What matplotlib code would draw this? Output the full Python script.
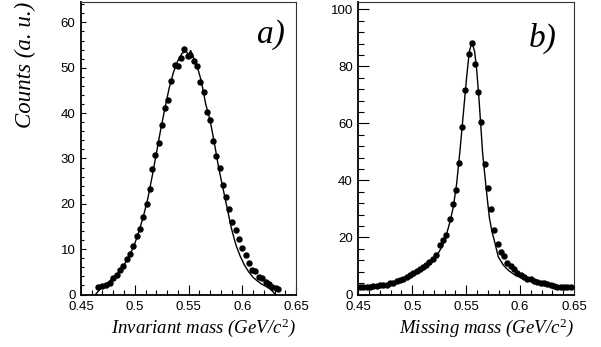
import matplotlib
matplotlib.use("Agg")
import matplotlib.pyplot as plt
from matplotlib.ticker import MultipleLocator, FixedLocator, FixedFormatter

plt.rcParams['mathtext.fontset'] = 'custom'
plt.rcParams['mathtext.it'] = 'Liberation Serif:italic'
plt.rcParams['mathtext.rm'] = 'Liberation Serif'

# ---------------- Panel a: invariant mass ----------------
inv_mass_data_x = [0.4659, 0.4695, 0.4731, 0.4768, 0.4799, 0.4831, 0.4862, 0.4893, 0.4924, 0.4955,
                   0.4986, 0.5017, 0.5048, 0.5079, 0.5110, 0.5138, 0.5164, 0.5192, 0.5222, 0.5254,
                   0.5282, 0.5310, 0.5341, 0.5373, 0.5401, 0.5429, 0.5460, 0.5494, 0.5516, 0.5553,
                   0.5578, 0.5609, 0.5640, 0.5672, 0.5703, 0.5731, 0.5759, 0.5790, 0.5818, 0.5849,
                   0.5878, 0.5908, 0.5939, 0.5971, 0.6002, 0.6033, 0.6064, 0.6095, 0.6123, 0.6154,
                   0.6186, 0.6217, 0.6248, 0.6279, 0.6310, 0.6332]
inv_mass_data_y = [1.6, 1.8, 2.2, 2.6, 3.7, 4.3, 5.4, 6.2, 7.8, 9.0,
                   10.6, 13.0, 14.4, 17.2, 19.9, 23.3, 27.6, 30.7, 33.4, 37.3,
                   41.2, 43.0, 47.0, 50.5, 50.3, 52.2, 54.2, 52.5, 52.9, 51.6,
                   50.3, 46.8, 44.6, 40.2, 38.4, 33.8, 30.5, 28.0, 24.1, 21.5,
                   18.8, 16.0, 14.2, 12.3, 10.3, 8.7, 7.0, 5.5, 5.1, 3.9,
                   3.7, 2.8, 2.3, 1.7, 1.4, 1.2]
inv_mass_sim_x = [0.4635, 0.4680, 0.4720, 0.4760, 0.4800, 0.4840, 0.4880, 0.4920, 0.4960, 0.5000,
                  0.5040, 0.5080, 0.5120, 0.5160, 0.5200, 0.5240, 0.5280, 0.5320, 0.5360, 0.5400,
                  0.5440, 0.5480, 0.5500, 0.5520, 0.5540, 0.5580, 0.5620, 0.5660, 0.5700, 0.5740,
                  0.5780, 0.5820, 0.5860, 0.5900, 0.5940, 0.5980, 0.6020, 0.6060, 0.6100, 0.6140,
                  0.6180, 0.6220, 0.6260, 0.6290, 0.6305]
inv_mass_sim_y = [0.0, 1.3, 2.1, 2.8, 3.7, 4.6, 5.8, 7.3, 9.0, 11.2,
                  14.0, 17.2, 21.0, 25.8, 31.0, 36.2, 41.0, 45.5, 49.0, 51.5,
                  53.2, 53.6, 52.8, 53.8, 52.6, 50.4, 47.0, 42.0, 38.5, 33.5,
                  28.0, 23.5, 19.0, 14.5, 11.0, 8.5, 6.5, 5.0, 3.8, 3.0,
                  2.3, 1.8, 1.2, 0.5, 0.0]

# ---------------- Panel b: missing mass ----------------
miss_mass_data_x = [0.4516, 0.4546, 0.4578, 0.4608, 0.4639, 0.4671, 0.4701, 0.4732, 0.4763, 0.4794,
                    0.4825, 0.4856, 0.4887, 0.4917, 0.4949, 0.4979, 0.5010, 0.5041, 0.5072, 0.5103,
                    0.5128, 0.5156, 0.5196, 0.5220, 0.5257, 0.5288, 0.5316, 0.5347, 0.5375, 0.5406,
                    0.5434, 0.5462, 0.5492, 0.5524, 0.5554, 0.5585, 0.5613, 0.5641, 0.5672, 0.5703,
                    0.5730, 0.5761, 0.5792, 0.5823, 0.5854, 0.5882, 0.5913, 0.5944, 0.5974, 0.6006,
                    0.6036, 0.6067, 0.6098, 0.6129, 0.6160, 0.6191, 0.6222, 0.6252, 0.6284, 0.6315,
                    0.6345, 0.6377, 0.6407, 0.6438, 0.6469]
miss_mass_data_y = [2.5, 2.6, 2.7, 2.8, 3.0, 3.1, 3.2, 3.3, 3.5, 3.9,
                    4.1, 4.6, 5.0, 5.4, 6.0, 6.8, 7.4, 8.3, 8.8, 9.5,
                    10.5, 11.4, 12.6, 14.0, 17.4, 19.1, 21.0, 26.6, 31.7, 36.7,
                    46.0, 58.8, 71.9, 84.3, 88.3, 81.0, 71.1, 60.6, 45.7, 37.5,
                    29.9, 22.8, 17.6, 15.0, 13.4, 10.9, 9.9, 8.8, 7.6, 6.8,
                    6.2, 5.6, 5.3, 4.8, 4.4, 4.1, 3.9, 3.6, 3.3, 3.0,
                    2.8, 2.7, 2.6, 2.5, 2.5]
miss_mass_sim_x = [0.450, 0.460, 0.470, 0.480, 0.490, 0.500, 0.510, 0.515, 0.520, 0.5257,
                   0.5290, 0.532, 0.535, 0.5381, 0.5412, 0.5443, 0.5474, 0.5505, 0.5529, 0.5554,
                   0.5579, 0.5598, 0.5622, 0.5653, 0.5684, 0.5715, 0.5740, 0.5768, 0.5798, 0.5845,
                   0.5891, 0.5953, 0.6015, 0.6077, 0.6138, 0.6200, 0.6262, 0.6324, 0.6386, 0.6500]
miss_mass_sim_y = [2.2, 2.6, 3.0, 3.7, 4.8, 6.3, 8.6, 10.2, 12.0, 15.5,
                   18.0, 21.4, 25.5, 30.7, 38.9, 50.6, 63.5, 76.4, 85.1, 88.6,
                   85.1, 78.7, 67.0, 49.5, 37.8, 27.0, 22.0, 17.9, 13.2, 10.3,
                   8.5, 6.8, 5.8, 5.0, 4.4, 3.9, 3.3, 2.9, 2.7, 2.4]

x_ticks = [0.45, 0.5, 0.55, 0.6, 0.65]
x_tick_labels = ['0.45', '0.5', '0.55', '0.6', '0.65']
ya_ticks = [0, 10, 20, 30, 40, 50, 60]
yb_ticks = [0, 20, 40, 60, 80, 100]

W, H = 601, 347
fig = plt.figure(figsize=(W / 100, H / 100), dpi=100)
ax1 = fig.add_axes([81 / W, 1 - 294.5 / H, (296 - 81) / W, (294.5 - 2) / H])
ax2 = fig.add_axes([358.3 / W, 1 - 294.5 / H, (574 - 358.3) / W, (294.5 - 2) / H])

tickfont = dict(family='Liberation Sans', size=9.5)
labfont = dict(family='Liberation Serif', style='italic', size=13.5)


def style(ax, ymax, yticks, ymin_step, ylen):
    ax.set_xlim(0.45, 0.65)
    ax.set_ylim(0, ymax)
    ax.xaxis.set_major_locator(FixedLocator(x_ticks))
    ax.xaxis.set_major_formatter(FixedFormatter(x_tick_labels))
    ax.xaxis.set_minor_locator(MultipleLocator(0.01))
    ax.yaxis.set_major_locator(FixedLocator(yticks))
    ax.yaxis.set_minor_locator(MultipleLocator(ymin_step))
    ax.tick_params(axis='x', which='major', direction='in', length=7.2, width=0.8,
                   pad=5, top=False)
    ax.tick_params(axis='x', which='minor', direction='in', length=3.6, width=0.8, top=False)
    ax.tick_params(axis='y', which='major', direction='in', length=ylen, width=0.8,
                   pad=4, right=False)
    ax.tick_params(axis='y', which='minor', direction='in', length=ylen / 2, width=0.8,
                   right=False)
    for lab in ax.get_xticklabels() + ax.get_yticklabels():
        lab.set_fontfamily(tickfont['family'])
        lab.set_fontsize(tickfont['size'])
    for s in ['left', 'bottom']:
        ax.spines[s].set_linewidth(1.3)
    for s in ['right', 'top']:
        ax.spines[s].set_linewidth(0.8)
        ax.spines[s].set_color('#333333')


style(ax1, 64.5, ya_ticks, 2, 3.8)
style(ax2, 102.6, yb_ticks, 4, 8.0)

ax1.plot(inv_mass_sim_x, inv_mass_sim_y, color='black', lw=1.0, zorder=2)
ax1.plot(inv_mass_data_x, inv_mass_data_y, 'o', color='black', ms=3.6, zorder=3)
ax2.plot(miss_mass_sim_x, miss_mass_sim_y, color='black', lw=1.0, zorder=2)
ax2.plot(miss_mass_data_x, miss_mass_data_y, 'o', color='black', ms=3.6, zorder=3)

ax1.set_xlabel(r'Invariant mass (GeV/$c^{\mathrm{2}}$)', loc='right', labelpad=2, **labfont)
ax2.set_xlabel(r'Missing mass (GeV/$c^{\mathrm{2}}$)', loc='right', labelpad=2, **labfont)
ax1.set_ylabel('Counts (a. u.)', loc='top', labelpad=18,
               family='Liberation Serif', style='italic', size=16.5)

ax1.text(0.95, 0.887, 'a)', transform=ax1.transAxes, ha='right', va='center',
         family='Liberation Serif', style='italic', fontsize=24)
ax2.text(0.918, 0.877, 'b)', transform=ax2.transAxes, ha='right', va='center',
         family='Liberation Serif', style='italic', fontsize=24)

fig.savefig('out.png', dpi=100)
